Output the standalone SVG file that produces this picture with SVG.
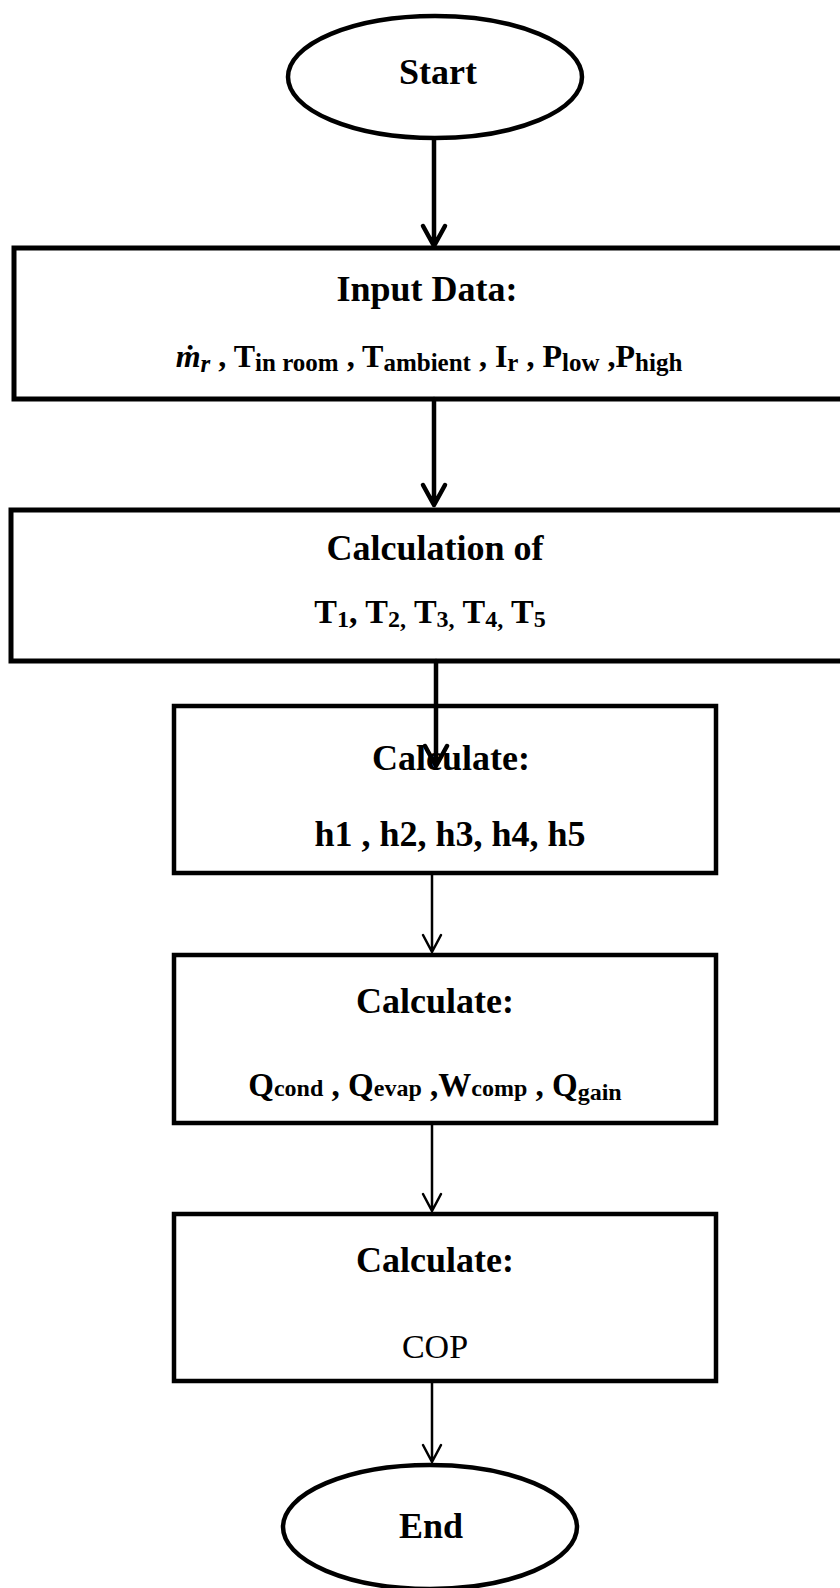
<svg xmlns="http://www.w3.org/2000/svg" width="840" height="1588" viewBox="0 0 840 1588">
<style>
.bg{fill:#fff}
.node{fill:#fff;stroke:#000;stroke-linejoin:miter}
.thick{stroke-width:5}
.med{stroke-width:4.5}
.title{font-family:"Liberation Serif",serif;font-weight:bold;font-size:36px;text-anchor:middle;fill:#000}
.body{font-family:"Liberation Serif",serif;font-weight:bold;font-size:34px;text-anchor:middle;fill:#000}
.conn{fill:none;stroke:#000;stroke-linecap:round;stroke-linejoin:round}
.c1{stroke-width:4.5}
.c2{stroke-width:2.5}
</style>
<rect class="bg" x="0" y="0" width="840" height="1588"/>

<g id="start">
<ellipse class="node med" cx="435" cy="77" rx="147" ry="61"/>
<text class="title" x="438" y="84">Start</text>
</g>

<g id="input">
<rect class="node thick" x="14" y="248" width="830" height="151"/>
<text class="title" x="427" y="301">Input Data:</text>
<text class="body" x="429" y="367" style="font-size:32px"><tspan font-style="italic">ṁ</tspan><tspan font-style="italic" font-size="25" dy="5">r</tspan><tspan dy="-5"> , T</tspan><tspan font-size="25" dy="4">in room</tspan><tspan dy="-4">  , T</tspan><tspan font-size="25" dy="4">ambient</tspan><tspan dy="-4"> , I</tspan><tspan font-size="25" dy="4">r</tspan><tspan dy="-4"> , P</tspan><tspan font-size="25" dy="4">low</tspan><tspan dy="-4"> ,P</tspan><tspan font-size="25" dy="4">high</tspan></text>
</g>

<g id="calcT">
<rect class="node thick" x="11" y="510" width="833" height="151"/>
<text class="title" x="435" y="560">Calculation of</text>
<text class="body" x="430" y="623">T<tspan font-size="24" dy="4">1</tspan><tspan dy="-4">, T</tspan><tspan font-size="24" dy="4">2,</tspan><tspan dy="-4"> T</tspan><tspan font-size="24" dy="4">3,</tspan><tspan dy="-4"> T</tspan><tspan font-size="24" dy="4">4,</tspan><tspan dy="-4"> T</tspan><tspan font-size="24" dy="4">5</tspan></text>
</g>

<g id="calcH">
<rect class="node med" x="174" y="706" width="542" height="167"/>
<text class="title" x="451" y="770">Calculate:</text>
<text class="body" x="450" y="846" style="font-size:36px">h1 , h2, h3, h4, h5</text>
</g>

<g id="calcQ">
<rect class="node med" x="174" y="955" width="542" height="168"/>
<text class="title" x="435" y="1013">Calculate:</text>
<text class="body" x="435" y="1096" style="font-size:33px">Q<tspan font-size="24">cond</tspan> , Q<tspan font-size="24">evap</tspan> ,W<tspan font-size="24">comp</tspan> , Q<tspan font-size="24" dy="4">gain</tspan></text>
</g>

<g id="calcCOP">
<rect class="node med" x="174" y="1214" width="542" height="167"/>
<text class="title" x="435" y="1272">Calculate:</text>
<text class="body" x="435" y="1358" style="font-weight:normal">COP</text>
</g>

<g id="end">
<ellipse class="node med" cx="430" cy="1527" rx="147" ry="62"/>
<text class="title" x="431" y="1538">End</text>
</g>

<g id="connectors">
<path class="conn c1" d="M434 139 V246 M423 226 L434 246 L445 226"/>
<path class="conn c1" d="M434 399 V505 M423 485 L434 505 L445 485"/>
<path class="conn c1" d="M436 661 V766 M425 746 L436 766 L447 746"/>
<path class="conn c2" d="M432 873 V952 M423 935 L432 952 L441 935"/>
<path class="conn c2" d="M432 1123 V1211 M423 1194 L432 1211 L441 1194"/>
<path class="conn c2" d="M432 1381 V1462 M423 1445 L432 1462 L441 1445"/>
</g>
</svg>
